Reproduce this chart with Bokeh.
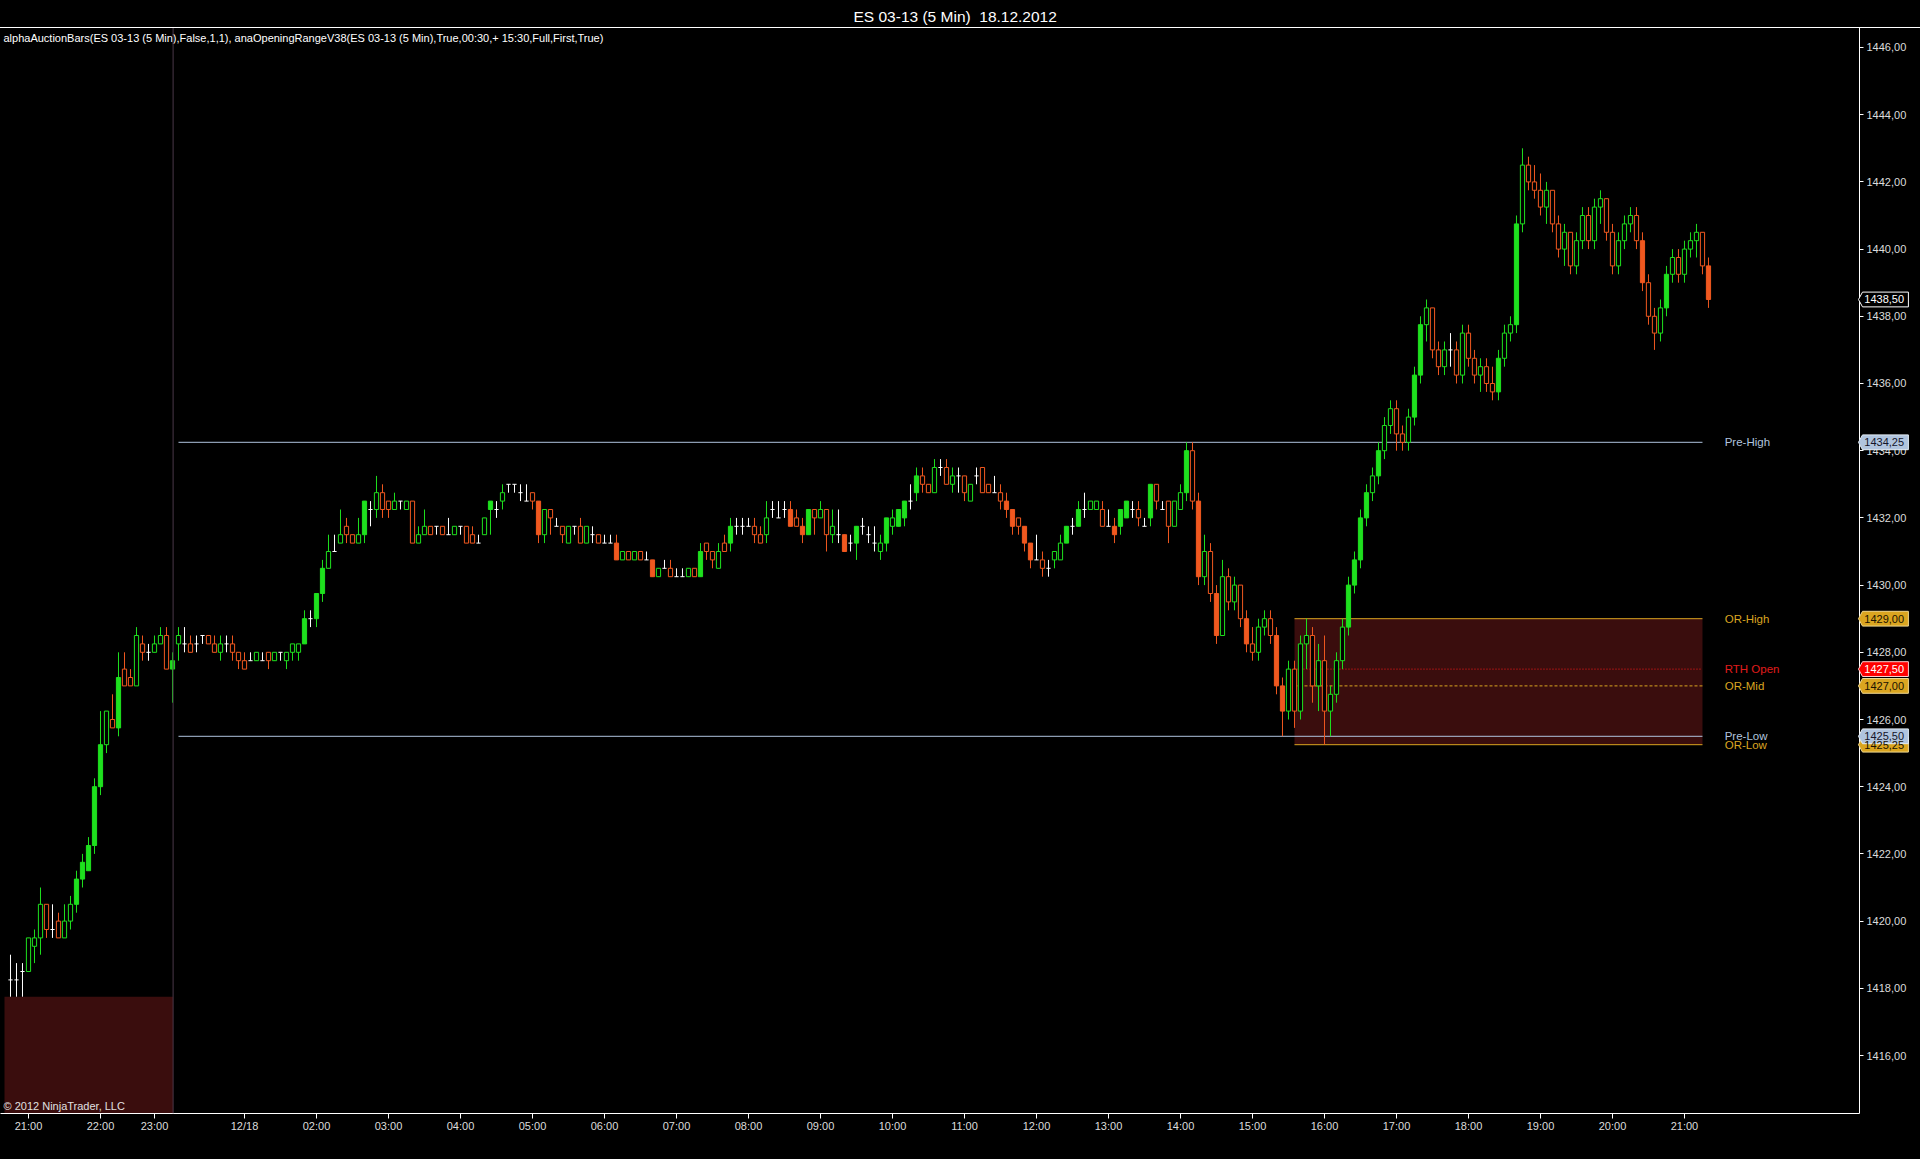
import pandas as pd
from bokeh.plotting import figure
from bokeh.models import ColumnDataSource, FixedTicker, Range1d, Span
from bokeh.embed import file_html
from bokeh.resources import INLINE
from bokeh.core.properties import value

FONT = "Liberation Sans"

title_text = "ES 03-13 (5 Min)\u00a0 18.12.2012"
indicator_text = ("alphaAuctionBars(ES 03-13 (5 Min),False,1,1), anaOpeningRangeV38(ES 03-13 (5 Min),"
                  "True,00:30,+ 15:30,Full,First,True)")
copyright_text = "\u00a9 2012 NinjaTrader, LLC"

# ---------------- bar times (two sessions) ----------------
session1_times = (list(pd.date_range("2012-12-17 20:45", "2012-12-17 22:15", freq="5min")) +
                  list(pd.date_range("2012-12-17 22:35", "2012-12-17 23:15", freq="5min")))
session2_times = list(pd.date_range("2012-12-18 00:05", "2012-12-18 21:20", freq="5min"))
bar_times = session1_times + session2_times

# ---------------- OHLC ----------------
opens = [
 1418.25, 1418.25, 1418.5, 1418.5, 1419.25, 1419.5, 1420.5, 1419.75, 1420.0, 1419.5,
 1420.0, 1420.5, 1421.25, 1421.5, 1422.25, 1424.0, 1425.25, 1426.0, 1425.75, 1427.5,
 1427.25, 1427.0, 1428.25, 1428.0, 1428.0, 1428.25, 1428.5, 1427.5, 1428.25, 1428.25,
 1428.25, 1428.25, 1428.5, 1428.5, 1428.25, 1428.0, 1428.25, 1428.25, 1428.0, 1427.75,
 1427.75, 1427.75, 1427.75, 1428.0, 1427.75, 1428.0, 1427.75, 1428.0, 1428.0, 1428.25,
 1429.0, 1429.0, 1429.75, 1430.5, 1431.0, 1431.25, 1431.75, 1431.5, 1431.25, 1431.5,
 1432.25, 1432.25, 1432.75, 1432.5, 1432.25, 1432.5, 1432.25, 1432.5, 1431.25, 1431.5,
 1431.75, 1431.75, 1431.75, 1431.5, 1431.5, 1431.75, 1431.75, 1431.5, 1431.25, 1431.5,
 1432.25, 1432.25, 1432.5, 1433.0, 1433.0, 1432.75, 1432.5, 1432.75, 1432.5, 1431.5,
 1432.25, 1431.75, 1431.75, 1431.25, 1431.75, 1431.75, 1431.25, 1431.5, 1431.5, 1431.25,
 1431.25, 1431.25, 1430.75, 1431.0, 1430.75, 1431.0, 1430.75, 1430.75, 1430.25, 1430.5,
 1430.5, 1430.25, 1430.25, 1430.25, 1430.5, 1430.25, 1431.25, 1431.0, 1430.5, 1431.25,
 1431.25, 1431.75, 1431.75, 1431.75, 1431.75, 1431.5, 1431.5, 1432.25, 1432.0, 1432.25,
 1432.25, 1432.0, 1431.75, 1431.5, 1432.25, 1432.0, 1432.25, 1431.5, 1431.5, 1431.5,
 1431.25, 1431.25, 1431.75, 1431.5, 1431.25, 1431.0, 1431.25, 1431.75, 1431.75, 1432.0,
 1432.5, 1432.75, 1433.25, 1433.0, 1432.75, 1433.5, 1433.5, 1433.0, 1433.25, 1433.25,
 1432.5, 1433.25, 1433.5, 1433.0, 1432.75, 1432.75, 1432.5, 1432.25, 1432.0, 1431.75,
 1431.25, 1430.75, 1430.75, 1430.5, 1430.75, 1430.75, 1431.25, 1431.75, 1431.75, 1432.25,
 1432.25, 1432.25, 1432.25, 1431.75, 1431.75, 1431.75, 1432.0, 1432.25, 1432.25, 1431.75,
 1432.0, 1433.0, 1432.25, 1432.5, 1431.75, 1432.25, 1432.75, 1434.0, 1432.5, 1430.25,
 1431.0, 1429.75, 1428.5, 1430.25, 1429.5, 1430.0, 1429.0, 1428.25, 1428.0, 1428.75,
 1429.0, 1428.5, 1427.0, 1426.25, 1427.5, 1426.25, 1428.25, 1428.5, 1427.0, 1427.75,
 1426.25, 1426.75, 1427.75, 1428.75, 1430.0, 1430.75, 1432.0, 1432.75, 1433.25, 1434.0,
 1434.75, 1435.25, 1434.5, 1434.25, 1435.0, 1436.25, 1437.75, 1438.25, 1437.0, 1436.5,
 1437.0, 1437.0, 1436.25, 1437.5, 1436.75, 1436.25, 1436.5, 1436.0, 1435.75, 1436.75,
 1437.5, 1437.75, 1440.75, 1442.5, 1442.0, 1441.75, 1441.25, 1441.75, 1440.75, 1440.0,
 1440.5, 1439.5, 1440.25, 1441.0, 1440.25, 1441.25, 1441.5, 1440.5, 1439.5, 1440.25,
 1440.75, 1441.0, 1440.25, 1439.0, 1438.0, 1437.5, 1438.25, 1439.25, 1439.75, 1439.25,
 1440.0, 1440.25, 1440.5, 1439.5]
highs = [
 1419.0, 1418.75, 1418.75, 1419.5, 1419.75, 1421.0, 1420.5, 1420.5, 1420.25, 1420.5,
 1420.75, 1421.5, 1422.0, 1422.5, 1424.25, 1426.25, 1426.25, 1426.75, 1428.0, 1428.0,
 1427.5, 1428.75, 1428.5, 1428.25, 1428.5, 1428.75, 1428.75, 1428.0, 1428.75, 1428.75,
 1428.5, 1428.5, 1428.5, 1428.5, 1428.5, 1428.5, 1428.5, 1428.5, 1428.0, 1428.0,
 1428.0, 1428.0, 1428.0, 1428.0, 1428.0, 1428.0, 1428.0, 1428.25, 1428.25, 1429.25,
 1429.25, 1429.75, 1430.75, 1431.5, 1431.5, 1432.25, 1432.0, 1431.5, 1432.0, 1432.5,
 1432.5, 1433.25, 1433.0, 1432.5, 1432.75, 1432.5, 1432.5, 1432.5, 1431.75, 1432.25,
 1431.75, 1431.75, 1431.75, 1432.0, 1431.75, 1431.75, 1431.75, 1431.75, 1431.5, 1432.0,
 1432.5, 1432.5, 1433.0, 1433.0, 1433.0, 1433.0, 1433.0, 1432.75, 1432.5, 1432.25,
 1432.25, 1432.0, 1431.75, 1431.75, 1431.75, 1432.0, 1431.75, 1431.75, 1431.5, 1431.5,
 1431.5, 1431.5, 1431.0, 1431.0, 1431.0, 1431.0, 1431.0, 1430.75, 1430.5, 1430.75,
 1430.75, 1430.5, 1430.5, 1430.5, 1430.5, 1431.25, 1431.25, 1431.0, 1431.25, 1431.5,
 1432.0, 1432.0, 1432.0, 1432.0, 1432.0, 1431.75, 1432.5, 1432.5, 1432.5, 1432.5,
 1432.5, 1432.25, 1432.0, 1432.25, 1432.25, 1432.5, 1432.25, 1432.25, 1432.25, 1431.5,
 1431.5, 1431.75, 1432.0, 1431.75, 1431.75, 1431.5, 1432.0, 1432.25, 1432.25, 1432.5,
 1433.0, 1433.5, 1433.5, 1433.0, 1433.75, 1433.75, 1433.75, 1433.5, 1433.5, 1433.25,
 1433.0, 1433.5, 1433.5, 1433.0, 1433.25, 1433.0, 1432.75, 1432.25, 1432.0, 1431.75,
 1431.25, 1431.5, 1431.0, 1430.75, 1431.0, 1431.5, 1431.75, 1432.0, 1432.5, 1432.75,
 1432.5, 1432.5, 1432.5, 1432.25, 1432.0, 1432.25, 1432.5, 1432.5, 1432.5, 1432.0,
 1433.0, 1433.0, 1432.5, 1432.5, 1432.5, 1433.0, 1434.25, 1434.25, 1432.75, 1431.5,
 1431.25, 1430.0, 1430.75, 1430.5, 1430.25, 1430.0, 1429.25, 1428.75, 1429.0, 1429.25,
 1429.25, 1428.75, 1427.25, 1427.75, 1427.75, 1428.5, 1429.0, 1428.75, 1428.25, 1428.5,
 1427.0, 1428.0, 1429.0, 1430.25, 1431.0, 1432.25, 1433.0, 1433.5, 1434.25, 1435.0,
 1435.5, 1435.5, 1434.75, 1435.25, 1436.5, 1438.0, 1438.5, 1438.25, 1437.25, 1437.25,
 1437.5, 1437.25, 1437.75, 1437.75, 1437.0, 1436.75, 1436.75, 1436.5, 1437.0, 1437.75,
 1438.0, 1441.0, 1443.0, 1442.75, 1442.5, 1442.25, 1442.0, 1441.75, 1441.0, 1440.75,
 1440.5, 1440.5, 1441.25, 1441.25, 1441.5, 1441.75, 1441.5, 1440.75, 1440.5, 1441.0,
 1441.25, 1441.25, 1440.5, 1439.25, 1438.25, 1438.5, 1439.5, 1440.0, 1440.0, 1440.25,
 1440.5, 1440.75, 1440.5, 1439.75]
lows = [
 1417.75, 1417.75, 1417.75, 1418.5, 1418.75, 1419.0, 1419.5, 1419.5, 1419.5, 1419.5,
 1419.75, 1420.25, 1421.0, 1421.5, 1422.0, 1423.75, 1425.0, 1425.75, 1425.5, 1427.0,
 1427.0, 1427.0, 1427.75, 1427.75, 1428.0, 1428.25, 1427.5, 1426.5, 1427.75, 1428.0,
 1428.0, 1428.0, 1428.25, 1428.25, 1428.0, 1427.75, 1428.0, 1427.75, 1427.5, 1427.5,
 1427.75, 1427.75, 1427.75, 1427.5, 1427.75, 1427.75, 1427.5, 1427.75, 1427.75, 1428.25,
 1428.75, 1428.75, 1429.5, 1430.5, 1431.0, 1431.25, 1431.25, 1431.25, 1431.25, 1431.25,
 1431.75, 1432.0, 1432.0, 1432.0, 1432.25, 1432.25, 1432.25, 1431.25, 1431.25, 1431.5,
 1431.5, 1431.5, 1431.5, 1431.5, 1431.5, 1431.5, 1431.25, 1431.25, 1431.25, 1431.5,
 1431.5, 1432.0, 1432.25, 1432.75, 1432.75, 1432.5, 1432.5, 1432.25, 1431.25, 1431.25,
 1431.5, 1431.75, 1431.25, 1431.25, 1431.5, 1431.25, 1431.25, 1431.25, 1431.25, 1431.25,
 1431.25, 1430.75, 1430.75, 1430.75, 1430.75, 1430.75, 1430.75, 1430.25, 1430.25, 1430.5,
 1430.25, 1430.25, 1430.25, 1430.25, 1430.25, 1430.25, 1430.75, 1430.5, 1430.5, 1431.0,
 1431.0, 1431.5, 1431.5, 1431.75, 1431.25, 1431.25, 1431.25, 1432.0, 1432.0, 1432.0,
 1431.75, 1431.75, 1431.25, 1431.5, 1431.5, 1432.0, 1431.0, 1431.25, 1431.25, 1431.0,
 1431.0, 1430.75, 1431.5, 1431.25, 1431.0, 1430.75, 1431.0, 1431.5, 1431.75, 1431.75,
 1432.25, 1432.5, 1432.75, 1432.75, 1432.75, 1433.25, 1433.0, 1432.75, 1432.75, 1432.5,
 1432.5, 1433.0, 1432.75, 1432.75, 1432.75, 1432.25, 1432.0, 1431.5, 1431.5, 1431.0,
 1430.5, 1430.75, 1430.25, 1430.25, 1430.5, 1430.75, 1431.25, 1431.5, 1431.75, 1432.0,
 1432.25, 1432.25, 1431.75, 1431.75, 1431.25, 1431.5, 1432.0, 1432.0, 1431.75, 1431.75,
 1431.75, 1432.25, 1432.25, 1431.25, 1431.75, 1432.25, 1432.5, 1432.25, 1430.0, 1430.0,
 1429.5, 1428.25, 1428.5, 1429.25, 1429.25, 1428.75, 1428.0, 1427.75, 1427.75, 1428.5,
 1428.25, 1426.75, 1425.5, 1426.0, 1425.75, 1426.0, 1427.5, 1426.5, 1426.25, 1425.25,
 1425.5, 1426.5, 1427.5, 1428.5, 1429.75, 1430.5, 1431.75, 1432.5, 1433.0, 1433.75,
 1434.5, 1434.0, 1434.0, 1434.0, 1434.75, 1436.0, 1437.25, 1436.75, 1436.25, 1436.25,
 1436.5, 1436.0, 1436.0, 1436.5, 1436.0, 1435.75, 1435.75, 1435.5, 1435.5, 1436.5,
 1437.25, 1437.5, 1440.5, 1441.75, 1441.5, 1441.0, 1440.75, 1440.5, 1439.75, 1439.5,
 1439.25, 1439.25, 1440.0, 1440.0, 1440.0, 1440.75, 1440.25, 1439.25, 1439.25, 1440.0,
 1440.5, 1440.0, 1438.75, 1437.75, 1437.0, 1437.25, 1438.0, 1439.0, 1439.0, 1439.0,
 1439.75, 1439.75, 1439.25, 1438.25]
closes = [
 1418.25, 1418.25, 1418.5, 1419.5, 1419.5, 1420.5, 1419.75, 1419.75, 1419.5, 1420.0,
 1420.5, 1421.25, 1421.75, 1422.25, 1424.0, 1425.25, 1426.25, 1425.75, 1427.25, 1427.0,
 1427.0, 1428.5, 1428.0, 1428.0, 1428.25, 1428.5, 1427.5, 1427.75, 1428.5, 1428.25,
 1428.0, 1428.25, 1428.5, 1428.25, 1428.0, 1428.25, 1428.25, 1428.0, 1427.75, 1427.5,
 1427.75, 1428.0, 1427.75, 1427.75, 1428.0, 1428.0, 1428.0, 1428.25, 1428.25, 1429.0,
 1429.0, 1429.75, 1430.5, 1431.0, 1431.0, 1431.5, 1431.5, 1431.25, 1431.5, 1432.5,
 1432.25, 1432.75, 1432.25, 1432.25, 1432.5, 1432.5, 1432.5, 1431.25, 1431.5, 1431.75,
 1431.5, 1431.75, 1431.5, 1431.5, 1431.75, 1431.75, 1431.25, 1431.25, 1431.25, 1432.0,
 1432.5, 1432.25, 1432.75, 1433.0, 1433.0, 1432.75, 1432.5, 1432.5, 1431.5, 1432.25,
 1432.0, 1431.75, 1431.5, 1431.75, 1431.75, 1431.25, 1431.75, 1431.5, 1431.25, 1431.25,
 1431.25, 1430.75, 1431.0, 1430.75, 1431.0, 1430.75, 1430.75, 1430.25, 1430.5, 1430.5,
 1430.25, 1430.25, 1430.25, 1430.5, 1430.25, 1431.0, 1431.0, 1430.75, 1431.0, 1431.0,
 1431.75, 1431.75, 1431.75, 1431.75, 1431.5, 1431.25, 1432.0, 1432.25, 1432.0, 1432.25,
 1431.75, 1431.75, 1431.5, 1432.25, 1432.0, 1432.25, 1431.5, 1431.75, 1431.5, 1431.0,
 1431.25, 1431.75, 1431.75, 1431.5, 1431.25, 1431.25, 1432.0, 1432.0, 1432.25, 1432.5,
 1432.5, 1433.25, 1433.0, 1432.75, 1433.5, 1433.5, 1433.0, 1433.25, 1433.25, 1432.75,
 1433.0, 1433.25, 1432.75, 1432.75, 1432.75, 1432.5, 1432.25, 1431.75, 1431.75, 1431.25,
 1430.75, 1430.75, 1430.5, 1430.5, 1431.0, 1431.25, 1431.75, 1431.75, 1432.25, 1432.25,
 1432.5, 1432.5, 1431.75, 1431.75, 1431.5, 1432.25, 1432.5, 1432.25, 1432.0, 1431.75,
 1433.0, 1432.5, 1432.25, 1431.75, 1432.5, 1432.75, 1434.0, 1432.5, 1430.25, 1431.0,
 1429.75, 1428.5, 1430.25, 1429.5, 1430.0, 1429.0, 1428.25, 1428.0, 1428.75, 1429.0,
 1428.5, 1427.0, 1426.25, 1427.5, 1426.25, 1428.25, 1428.5, 1427.0, 1427.75, 1426.25,
 1426.75, 1427.75, 1428.75, 1430.0, 1430.75, 1432.0, 1432.75, 1433.25, 1434.0, 1434.75,
 1435.25, 1434.5, 1434.25, 1435.0, 1436.25, 1437.75, 1438.25, 1437.0, 1436.5, 1437.0,
 1437.0, 1436.25, 1437.5, 1436.75, 1436.25, 1436.5, 1436.0, 1435.75, 1436.75, 1437.5,
 1437.75, 1440.75, 1442.5, 1442.0, 1441.75, 1441.25, 1441.75, 1440.75, 1440.0, 1440.5,
 1439.5, 1440.25, 1441.0, 1440.25, 1441.25, 1441.5, 1440.5, 1439.5, 1440.25, 1440.75,
 1441.0, 1440.25, 1439.0, 1438.0, 1437.5, 1438.25, 1439.25, 1439.75, 1439.25, 1440.0,
 1440.25, 1440.5, 1439.5, 1438.5]

# bars drawn with a solid body (as seen in the chart)
filled_bars = [11, 12, 13, 14, 15, 18, 27, 49, 51, 52, 59, 80, 88, 101, 107, 115,
               120, 130, 132, 133, 139, 141, 146, 148, 149, 151, 166, 167, 169, 170,
               176, 178, 184, 185, 186, 190, 196, 198, 201, 206, 211, 212, 223, 224,
               225, 226, 228, 234, 235, 248, 251, 272, 276, 283]

prev_or_high = 1417.75      # previous day's opening-range box top
y_ticks = list(range(1416, 1447, 2))

n = min(len(opens), len(highs), len(lows), len(closes), len(bar_times))
opens, highs, lows, closes, bar_times = opens[:n], highs[:n], lows[:n], closes[:n], bar_times[:n]

# ---------------- derived levels ----------------
rth_start = pd.Timestamp("2012-12-18 15:30")
or_end = pd.Timestamp("2012-12-18 16:00")
day2 = pd.Timestamp("2012-12-18").date()
pre_idx = [i for i, t in enumerate(bar_times) if t.date() == day2 and t <= rth_start]
or_idx = [i for i, t in enumerate(bar_times) if rth_start < t <= or_end]
pre_high = max(highs[i] for i in pre_idx)
pre_low = min(lows[i] for i in pre_idx)
or_high = max(highs[i] for i in or_idx)
or_low = min(lows[i] for i in or_idx)
rth_open = opens[or_idx[0]]
or_mid = round((or_high + or_low) / 2 / 0.25) * 0.25
last_close = closes[-1]
line_end = n - 2
session_break = len(session1_times) - 0.9

UP, DOWN, DOJI = "#1ee01e", "#f0581f", "#ffffff"
BLUE, GOLD, RED = "#b0c4de", "#daa520", "#ff1a1a"
BOX = "#3a0d0d"

X0, X1 = -10 / 6, 308.17
Y0, Y1 = 1414.274, 1446.595

xs = list(range(n))
colors = [UP if c > o else (DOWN if c < o else DOJI) for o, c in zip(opens, closes)]

p = figure(width=1920, height=1159, x_range=Range1d(X0, X1), y_range=Range1d(Y0, Y1),
           output_backend="svg", toolbar_location=None, y_axis_location="right",
           background_fill_color="black", border_fill_color="black",
           outline_line_color=None, min_border_left=0, min_border_right=61,
           min_border_top=27, min_border_bottom=46, title=title_text)
p.title.text_color = "white"
p.title.text_font = FONT
p.title.text_font_size = "15.5px"
p.title.text_font_style = "normal"
p.title.align = "left"
p.title.offset = 853
p.title.standoff = 6
p.xgrid.visible = False
p.ygrid.visible = False

try:
    from bokeh.models import GlobalInlineStyleSheet
    p.stylesheets = [GlobalInlineStyleSheet(css="body { background-color: #000000; }")]
except Exception:
    pass

# boxes
p.quad(left=[-1], right=[session_break], bottom=[1400], top=[prev_or_high], fill_color=BOX, line_color=None)
p.quad(left=[or_idx[0]], right=[line_end], bottom=[or_low], top=[or_high], fill_color=BOX, line_color=None)
p.add_layout(Span(location=session_break, dimension="height", line_color="#4a3848", line_width=1))

# level lines
p.segment(x0=[pre_idx[0]] * 2, x1=[line_end] * 2, y0=[pre_high, pre_low], y1=[pre_high, pre_low],
          line_color=BLUE, line_width=1)
p.segment(x0=[or_idx[0]] * 2, x1=[line_end] * 2, y0=[or_high, or_low], y1=[or_high, or_low],
          line_color=GOLD, line_width=1)
p.segment(x0=[or_idx[0]], x1=[line_end], y0=[or_mid], y1=[or_mid], line_color=GOLD, line_width=1,
          line_dash="3 2")
p.segment(x0=[or_idx[0]], x1=[line_end], y0=[rth_open], y1=[rth_open], line_color=RED, line_width=1,
          line_dash="1 2")

# candles
wick_src = ColumnDataSource(dict(x=xs, h=highs, l=lows, c=colors))
p.segment(x0="x", y0="h", x1="x", y1="l", line_color="c", line_width=1, source=wick_src)

body = [i for i in range(n) if closes[i] != opens[i]]
body_src = ColumnDataSource(dict(
    x=body,
    top=[max(opens[i], closes[i]) for i in body],
    bottom=[min(opens[i], closes[i]) for i in body],
    lc=[colors[i] for i in body],
    fc=[colors[i] if i in filled_bars else "#000000" for i in body]))
p.vbar(x="x", width=0.7, top="top", bottom="bottom", fill_color="fc", line_color="lc",
       line_width=1, source=body_src)

doji = [i for i in range(n) if closes[i] == opens[i]]
doji_src = ColumnDataSource(dict(x0=[i - 0.35 for i in doji], x1=[i + 0.35 for i in doji],
                                 y=[closes[i] for i in doji]))
p.segment(x0="x0", y0="y", x1="x1", y1="y", line_color=DOJI, line_width=1, source=doji_src)

# level names
lvl_src = ColumnDataSource(dict(
    x=[line_end + 3.7] * 6,
    y=[pre_high, or_high, rth_open, or_mid, pre_low, or_low],
    t=["Pre-High", "OR-High", "RTH Open", "OR-Mid", "Pre-Low", "OR-Low"],
    c=[BLUE, GOLD, "#e01c1c", GOLD, BLUE, GOLD]))
p.text(x="x", y="y", text="t", text_color="c", text_font=value(FONT), text_font_size="11.5px",
       text_baseline="middle", text_align="left", source=lvl_src)

p.text(x=[X0 + 0.5], y=[1446.27], text=[indicator_text], text_color="#ffffff", text_font=value(FONT),
       text_font_size="11px", text_baseline="middle", text_align="left")
p.text(x=[X0 + 0.5], y=[1414.33], text=[copyright_text], text_color="#e0e0e0", text_font=value(FONT),
       text_font_size="11px", text_baseline="bottom", text_align="left")

# axes
ya = p.yaxis[0]
ya.ticker = FixedTicker(ticks=y_ticks)
ya.major_label_overrides = {v: f"{v},00" for v in y_ticks}
xa = p.xaxis[0]
tick_idx, tick_lbl, prev_date = [], {}, None
for i, t in enumerate(bar_times):
    if t.minute == 0:
        tick_idx.append(i)
        tick_lbl[i] = t.strftime("%m/%d") if (prev_date is not None and t.date() != prev_date) else t.strftime("%H:%M")
        prev_date = t.date()
xa.ticker = FixedTicker(ticks=tick_idx)
xa.major_label_overrides = tick_lbl
for ax, out, so in ((ya, 4, 3), (xa, 5, 1)):
    ax.axis_line_color = "white"
    ax.major_tick_line_color = "white"
    ax.major_tick_out = out
    ax.major_tick_in = 0
    ax.minor_tick_line_color = None
    ax.major_label_text_color = "#dcdcdc"
    ax.major_label_text_font = FONT
    ax.major_label_text_font_size = "11px"
    ax.major_label_standoff = so

# top border across the full width (drawn unclipped)
top_line = p.segment(x0=[X0 - 1], x1=[X1 + 20], y0=[Y1], y1=[Y1], line_color="white", line_width=1)
top_line.level = "overlay"

# price markers on the axis (drawn unclipped, over the axis)
markers = [(last_close, "#000000", "#ffffff", "#ffffff"),
           (pre_high, BLUE, "#14142a", "#e4ecf4"),
           (or_high, GOLD, "#1a1200", "#f0d890"),
           (rth_open, "#ff0000", "#ffffff", "#ffd0d0"),
           (or_mid, GOLD, "#1a1200", "#f0d890"),
           (or_low, GOLD, "#1a1200", "#f0d890"),
           (pre_low, BLUE, "#14142a", "#e4ecf4")]
hh = 0.22
tip, bl, br = X1 - 0.17, X1 + 0.5, X1 + 8.15
mk_src = ColumnDataSource(dict(
    xs=[[tip, bl, br, br, bl] for m in markers],
    ys=[[m[0], m[0] + hh, m[0] + hh, m[0] - hh, m[0] - hh] for m in markers],
    fill=[m[1] for m in markers], line=[m[3] for m in markers],
    tx=[bl + 0.3 for m in markers], ty=[m[0] for m in markers],
    t=[f"{m[0]:.2f}".replace(".", ",") for m in markers], tc=[m[2] for m in markers]))
r1 = p.patches(xs="xs", ys="ys", fill_color="fill", line_color="line", line_width=1, source=mk_src)
r2 = p.text(x="tx", y="ty", text="t", text_color="tc", text_font=value(FONT), text_font_size="11px",
            text_baseline="middle", text_align="left", source=mk_src)
r1.level = "overlay"
r2.level = "overlay"

open("out.html", "w").write(file_html(p, INLINE))
